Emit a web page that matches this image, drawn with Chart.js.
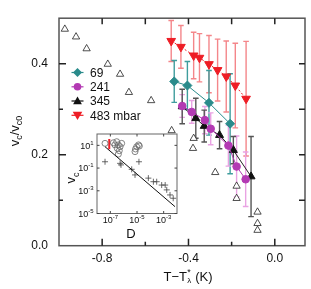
<!DOCTYPE html>
<html><head><meta charset="utf-8">
<script src="https://cdn.jsdelivr.net/npm/chart.js@4.4.1/dist/chart.umd.min.js"></script>
<style>
html,body{margin:0;padding:0;background:#fff;}
#wrap{position:relative;width:311px;height:289px;background:#fff;}
canvas{position:absolute;left:0;top:0;}
</style></head><body>
<div id="wrap"><canvas id="main" width="311" height="289"></canvas><canvas id="inset" width="311" height="289"></canvas></div>
<script>
const FONT = "'Liberation Sans', Arial, Helvetica, sans-serif";

// ---------- main panel data ----------
const xOpen = [-0.973,-0.921,-0.872,-0.774,-0.717,-0.676,-0.573,-0.478,-0.376,-0.379,-0.276,-0.177,-0.177,-0.080,-0.080,-0.080];
const yOpen = [0.476,0.459,0.433,0.399,0.377,0.337,0.319,0.253,0.236,0.214,0.161,0.131,0.104,0.074,0.049,0.034];

const x69 = [-0.466,-0.405,-0.305,-0.207];
const y69 = [0.361,0.352,0.314,0.268];
const e69 = [0.046,0.053,0.071,0.110];

const x241 = [-0.429,-0.385,-0.324,-0.297,-0.215,-0.177,-0.135];
const y241 = [0.307,0.294,0.276,0.257,0.220,0.174,0.146];
const e241 = [0.025,0.025,0.030,0.035,0.045,0.067,0.060];

const x345 = [-0.429,-0.366,-0.327,-0.256,-0.192,-0.110];
const y345 = [0.306,0.280,0.263,0.243,0.210,0.152];
const e345 = [0.038,0.044,0.035,0.030,0.030,0.088];

const x483 = [-0.480,-0.435,-0.376,-0.349,-0.305,-0.265,-0.225,-0.183,-0.133];
const y483 = [0.450,0.437,0.418,0.413,0.399,0.386,0.372,0.352,0.323];
const e483 = [0.045,0.047,0.051,0.053,0.063,0.068,0.078,0.093,0.126];

const seriesLabels = ['69','241','345','483 mbar'];

const xTickVals = [-0.8,-0.6,-0.4,-0.2,0.0];
const xTickLabels = {'-0.8':'-0.8','-0.4':'-0.4','0':'0.0'};
const yTickVals = [0.1,0.2,0.3,0.4];
const yLabelVals = [0.0,0.2,0.4];
const yTickLabels = ['0.0','0.2','0.4'];

// ---------- inset data ----------
const insetCircX = [4.0e-8,1.7e-7,3.0e-7,4.0e-7,5.4e-7,3.3e-7,4.7e-7,4.0e-7,7.1e-7,2.2e-7,9.5e-6,1.3e-5,1.5e-5,7.1e-6,7.8e-6];
const insetCircY = [15,17,21,11,7.6,5.5,3.4,1.7,15,11,7.6,11,8.7,2.8,4.8];
const insetPlusX = [4.0e-8,5.4e-7,6.3e-7,1.4e-5,4.0e-6,7.1e-6,7.1e-5,1.7e-4,3.0e-4,7.1e-4,1.3e-3,1.7e-3,3.0e-3,5.2e-3];
const insetPlusY = [0.36,0.26,0.19,0.36,0.078,0.025,0.013,6.3e-3,6.3e-3,3.2e-3,3.2e-3,1.2e-3,4.3e-4,2.2e-4];
const insetLineX = [4.0e-8,7.1e-3];
const insetLineY = [7.6,4.0e-5];
const insetRedX = [8.3e-8,8.3e-8];
const insetRedY = [36,4.5];
const insetXTicks = [1e-7,1e-5,1e-3];
const insetXExp = ['-7','-5','-3'];
const insetYTicks = [1e1,1e-1,1e-3,1e-5];
const insetYExp = ['1','-1','-3','-5'];

const pts = (xs, ys) => xs.map((v,i)=>({x:v, y:ys[i]}));

const COL = {
  teal:'#2a8b8b', tealErr:'#3f9d9d',
  mag:'#b339b3', magErr:'#e9a3e3',
  blk:'#111111', blkErr:'#555555',
  red:'#ee1d25', redErr:'#f4868a'
};

const errorBars = {
  id:'errorBars',
  beforeDatasetsDraw(chart){
    const {ctx, chartArea:a, scales:{x,y}} = chart;
    ctx.save();
    ctx.beginPath(); ctx.rect(a.left,a.top,a.right-a.left,a.bottom-a.top); ctx.clip();
    chart.data.datasets.forEach(ds=>{
      if(!ds.errors) return;
      ctx.strokeStyle = ds.errorColor; ctx.lineWidth = 1.4;
      ds.data.forEach((p,i)=>{
        const e = ds.errors[i];
        const px = x.getPixelForValue(p.x);
        const t = y.getPixelForValue(p.y+e), b = y.getPixelForValue(p.y-e);
        ctx.beginPath();
        ctx.moveTo(px,t); ctx.lineTo(px,b);
        ctx.moveTo(px-2.8,t); ctx.lineTo(px+2.8,t);
        ctx.moveTo(px-2.8,b); ctx.lineTo(px+2.8,b);
        ctx.stroke();
      });
    });
    ctx.restore();
  }
};

function drawMarker(ctx, style, x, y, color){
  ctx.save();
  ctx.fillStyle = color; ctx.strokeStyle = color; ctx.lineWidth = 1;
  ctx.beginPath();
  if(style==='rectRot'){ const r=4.5; ctx.moveTo(x,y-r); ctx.lineTo(x+r,y); ctx.lineTo(x,y+r); ctx.lineTo(x-r,y); ctx.closePath(); }
  else if(style==='circle'){ ctx.arc(x,y,3.8,0,Math.PI*2); }
  else if(style==='tri'){ const r=4.4; ctx.moveTo(x,y-r); ctx.lineTo(x+r,y+r*0.75); ctx.lineTo(x-r,y+r*0.75); ctx.closePath(); }
  else if(style==='triDown'){ const r=4.8; ctx.moveTo(x,y+r); ctx.lineTo(x+r,y-r*0.75); ctx.lineTo(x-r,y-r*0.75); ctx.closePath(); }
  ctx.fill();
  ctx.restore();
}

const decor = {
  id:'decor',
  afterDraw(chart){
    const {ctx, chartArea:a, scales:{x,y}} = chart;
    ctx.save();
    ctx.strokeStyle = '#555'; ctx.lineWidth = 1.5;
    ctx.strokeRect(a.left,a.top,a.right-a.left,a.bottom-a.top);
    ctx.strokeStyle = '#222'; ctx.lineWidth = 1.5;
    ctx.beginPath();
    xTickVals.forEach(v=>{
      const px = x.getPixelForValue(v);
      const major = Math.abs(Math.round(v*10)) % 4 === 0;
      const len = major ? 7 : 4;
      ctx.moveTo(px,a.bottom); ctx.lineTo(px,a.bottom-len);
      ctx.moveTo(px,a.top); ctx.lineTo(px,a.top+6);
    });
    yTickVals.forEach(v=>{
      const py = y.getPixelForValue(v);
      const major = Math.round(v*10) % 2 === 0;
      const len = major ? 7 : 4;
      ctx.moveTo(a.left,py); ctx.lineTo(a.left+len,py);
      ctx.moveTo(a.right,py); ctx.lineTo(a.right-6,py);
    });
    ctx.stroke();

    // legend
    const rows = [72.5,86.8,101,115.3];
    const styles = [['rectRot',COL.teal],['circle',COL.mag],['tri',COL.blk],['triDown',COL.red]];
    ctx.font = '12px ' + FONT; ctx.fillStyle = '#111'; ctx.textBaseline = 'alphabetic'; ctx.textAlign = 'left';
    rows.forEach((ry,i)=>{
      ctx.strokeStyle = styles[i][1]; ctx.lineWidth = 1.2;
      ctx.beginPath(); ctx.moveTo(71.5,ry); ctx.lineTo(83.5,ry); ctx.stroke();
      drawMarker(ctx, styles[i][0], 77.5, ry, styles[i][1]);
      ctx.fillStyle = '#111';
      ctx.fillText(seriesLabels[i], 90, ry+4.3);
    });

    // y title: v_c/v_c0
    ctx.save();
    ctx.translate(18.5, 131);
    ctx.rotate(-Math.PI/2);
    const parts = [['v',13,0],['c',9,3.5],['/v',13,0],['c0',9,3.5]];
    let w = 0;
    parts.forEach(p=>{ ctx.font = p[1]+'px '+FONT; w += ctx.measureText(p[0]).width; });
    let cx = -w/2;
    ctx.textAlign='left'; ctx.fillStyle='#111';
    parts.forEach(p=>{ ctx.font = p[1]+'px '+FONT; ctx.fillText(p[0], cx, p[2]); cx += ctx.measureText(p[0]).width; });
    ctx.restore();

    // x title: T−T*_λ (K)
    ctx.fillStyle='#111'; ctx.textAlign='left';
    ctx.font = '13px '+FONT;
    const s1 = 'T\u2212T', s3 = ' (K)';
    const w1 = ctx.measureText(s1).width, w3 = ctx.measureText(s3).width;
    ctx.font = '8px '+FONT;
    const w2 = Math.max(ctx.measureText('*').width, ctx.measureText('\u03bb').width) + 0.5;
    let sx = 188 - (w1+w2+w3)/2;
    const base = 280.5;
    ctx.font = '13px '+FONT; ctx.fillText(s1, sx, base); sx += w1;
    ctx.font = '9px '+FONT; ctx.fillText('*', sx+0.3, base-5.5);
    ctx.font = '8px '+FONT; ctx.fillText('\u03bb', sx+0.3, base+2.5);
    sx += w2;
    ctx.font = '13px '+FONT; ctx.fillText(s3, sx, base);
    ctx.restore();
  }
};

new Chart(document.getElementById('main'), {
  type:'scatter',
  data:{ datasets:[
    { label:'open', data:pts(xOpen,yOpen), pointStyle:'triangle', pointRadius:4.2, borderColor:'#222', backgroundColor:'#fff', borderWidth:0.8, showLine:false },
    { label:seriesLabels[3], data:pts(x483,y483), errors:e483, errorColor:COL.redErr, showLine:true, tension:0, borderColor:COL.red, borderWidth:1, borderDash:[2,2], backgroundColor:COL.red, pointBorderColor:COL.red, pointBackgroundColor:COL.red, pointStyle:'triangle', rotation:180, pointRadius:5 },
    { label:seriesLabels[0], data:pts(x69,y69), errors:e69, errorColor:COL.tealErr, showLine:true, tension:0, borderColor:COL.teal, borderWidth:1, backgroundColor:COL.teal, pointBorderColor:COL.teal, pointBackgroundColor:COL.teal, pointStyle:'rectRot', pointRadius:4.5 },
    { label:seriesLabels[1], data:pts(x241,y241), errors:e241, errorColor:COL.magErr, showLine:true, tension:0, borderColor:COL.mag, borderWidth:1, backgroundColor:COL.mag, pointBorderColor:COL.mag, pointBackgroundColor:COL.mag, pointStyle:'circle', pointRadius:3.8 },
    { label:seriesLabels[2], data:pts(x345,y345), errors:e345, errorColor:COL.blkErr, showLine:true, tension:0, borderColor:'#222', borderWidth:1, backgroundColor:COL.blk, pointBorderColor:COL.blk, pointBackgroundColor:COL.blk, pointStyle:'triangle', pointRadius:4.6 }
  ]},
  options:{
    responsive:false, animation:false, devicePixelRatio:1,
    layout:{ padding:{ top:1, right:4.3, left:0, bottom:0 } },
    plugins:{ legend:{display:false}, tooltip:{enabled:false} },
    scales:{
      x:{ type:'linear', min:-1.0, max:0.14,
          grid:{display:false, drawTicks:false}, border:{display:false},
          afterBuildTicks:s=>{ s.ticks = Object.keys(xTickLabels).map(k=>({value:parseFloat(k)})); },
          afterFit:s=>{ s.height = 289-245.7-0; },
          ticks:{ padding:6, color:'#111', font:{family:FONT, size:12}, maxRotation:0, autoSkip:false,
                  callback:v=> xTickLabels[String(Math.round(v*10)/10)] ?? '' } },
      y:{ type:'linear', min:0, max:0.5,
          grid:{display:false, drawTicks:false}, border:{display:false},
          afterBuildTicks:s=>{ s.ticks = yLabelVals.map(v=>({value:v})); },
          afterFit:s=>{ s.width = 59; },
          ticks:{ padding:11, color:'#111', font:{family:FONT, size:12}, autoSkip:false,
                  callback:v=> yTickLabels[yLabelVals.indexOf(Math.round(v*10)/10)] ?? '' } }
    }
  },
  plugins:[errorBars, decor]
});

// ---------- inset ----------
const insetDecor = {
  id:'insetDecor',
  beforeDraw(chart){
    const {ctx, chartArea:a} = chart;
    ctx.save(); ctx.fillStyle='#fff'; ctx.fillRect(a.left,a.top,a.right-a.left,a.bottom-a.top); ctx.restore();
  },
  afterDraw(chart){
    const {ctx, chartArea:a, scales:{x,y}} = chart;
    ctx.save();
    ctx.strokeStyle='#666'; ctx.lineWidth=1;
    ctx.strokeRect(a.left,a.top,a.right-a.left,a.bottom-a.top);
    ctx.strokeStyle='#444'; ctx.beginPath();
    insetXTicks.forEach(v=>{ const px=x.getPixelForValue(v); ctx.moveTo(px,a.bottom); ctx.lineTo(px,a.bottom-2.5); ctx.moveTo(px,a.top); ctx.lineTo(px,a.top+2.5); });
    insetYTicks.forEach(v=>{ const py=y.getPixelForValue(v); ctx.moveTo(a.left,py); ctx.lineTo(a.left+2.5,py); ctx.moveTo(a.right,py); ctx.lineTo(a.right-2.5,py); });
    ctx.stroke();
    ctx.fillStyle='#111'; ctx.textBaseline='alphabetic';
    insetXTicks.forEach((v,i)=>{
      const px=x.getPixelForValue(v);
      ctx.font='9px '+FONT; const w1=ctx.measureText('10').width;
      ctx.font='6px '+FONT; const w2=ctx.measureText(insetXExp[i]).width;
      let sx = px-(w1+w2)/2;
      ctx.font='9px '+FONT; ctx.fillText('10', sx, a.bottom+9.5);
      ctx.font='6px '+FONT; ctx.fillText(insetXExp[i], sx+w1, a.bottom+5.5);
    });
    insetYTicks.forEach((v,i)=>{
      const py=y.getPixelForValue(v);
      ctx.font='6px '+FONT; const w2=ctx.measureText(insetYExp[i]).width;
      ctx.font='9px '+FONT; const w1=ctx.measureText('10').width;
      const ex = a.left-3.5;
      ctx.fillText('10', ex-w2-w1, py+3.3);
      ctx.font='6px '+FONT; ctx.fillText(insetYExp[i], ex-w2, py-0.7);
    });
    ctx.font='13px '+FONT; ctx.textAlign='center';
    ctx.fillText('D', 131, 238);
    ctx.save(); ctx.translate(75, 178); ctx.rotate(-Math.PI/2);
    ctx.textAlign='left';
    ctx.font='13px '+FONT; const wv=ctx.measureText('v').width;
    ctx.font='9px '+FONT; const wc=ctx.measureText('c').width;
    ctx.font='13px '+FONT; ctx.fillText('v', -(wv+wc)/2, 0);
    ctx.font='9px '+FONT; ctx.fillText('c', -(wv+wc)/2+wv, 3.5);
    ctx.restore();
    ctx.restore();
  }
};

new Chart(document.getElementById('inset'), {
  type:'scatter',
  data:{ datasets:[
    { data:pts(insetLineX,insetLineY), showLine:true, tension:0, borderColor:'#111', borderWidth:1, pointRadius:0 },
    { data:pts(insetCircX,insetCircY), pointStyle:'circle', pointRadius:3, borderColor:'#666', backgroundColor:'rgba(0,0,0,0)', borderWidth:0.8 },
    { data:pts(insetPlusX,insetPlusY), pointStyle:'cross', pointRadius:3, borderColor:'#444', borderWidth:0.8 },
    { data:pts(insetRedX,insetRedY), showLine:true, tension:0, borderColor:'#ee1d25', borderWidth:2, pointRadius:0 }
  ]},
  options:{
    responsive:false, animation:false, devicePixelRatio:1,
    layout:{ padding:{ top:134, right:134, left:0, bottom:0 } },
    plugins:{ legend:{display:false}, tooltip:{enabled:false} },
    scales:{
      x:{ type:'logarithmic', min:1e-8, max:1e-2, grid:{display:false, drawTicks:false}, border:{display:false},
          ticks:{display:false}, afterFit:s=>{ s.height = 289-213.5; } },
      y:{ type:'logarithmic', min:1e-5, max:1e2, grid:{display:false, drawTicks:false}, border:{display:false},
          ticks:{display:false}, afterFit:s=>{ s.width = 97; } }
    }
  },
  plugins:[insetDecor]
});
</script>
</body></html>
